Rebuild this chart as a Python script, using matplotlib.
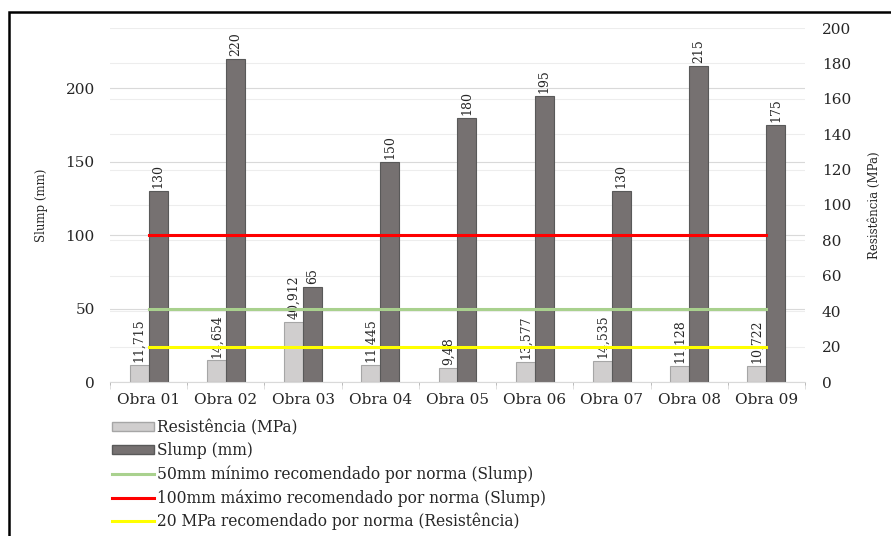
import matplotlib

matplotlib.use("Agg")
import matplotlib.pyplot as plt
import numpy as np
from matplotlib.lines import Line2D
from matplotlib.patches import Patch, Rectangle

obras = ["Obra 01", "Obra 02", "Obra 03", "Obra 04", "Obra 05",
         "Obra 06", "Obra 07", "Obra 08", "Obra 09"]
resistencia = [11.715, 14.654, 40.912, 11.445, 9.48, 13.577, 14.535, 11.128, 10.722]
slump = [130, 220, 65, 150, 180, 195, 130, 215, 175]
slump_min = [50] * len(obras)
slump_max = [100] * len(obras)
resist_min = [20] * len(obras)

plt.rcParams["font.family"] = ["DejaVu Serif"]
TXT = "#262626"

fig = plt.figure(figsize=(8.91, 5.36), dpi=100)
rect = [110 / 891, 1 - 382 / 536, 695 / 891, 354 / 536]

# right axis sits behind so its grid stays under the bars
ax2 = fig.add_axes(rect, zorder=0)
ax = fig.add_axes(rect, sharex=ax2, zorder=1)
ax.patch.set_visible(False)
ax3 = fig.add_axes(rect, sharex=ax2, zorder=2)
ax3.patch.set_visible(False)

x = np.arange(len(obras))
w = 0.245

ax.bar(x - w / 2, resistencia, w, color="#D0CECE", edgecolor="#A6A6A6", linewidth=0.8)
ax.bar(x + w / 2, slump, w, color="#767171", edgecolor="#595959", linewidth=0.8)

for xi, v in zip(x, resistencia):
    ax.annotate(str(v).replace(".", ","), (xi - w / 2, v), xytext=(0, 2),
                textcoords="offset points", rotation=90, ha="center", va="bottom",
                fontsize=9, color=TXT)
for xi, v in zip(x, slump):
    ax.annotate(str(v), (xi + w / 2, v), xytext=(0, 2),
                textcoords="offset points", rotation=90, ha="center", va="bottom",
                fontsize=9, color=TXT)

ax.plot(x, slump_min, color="#A9D18E", lw=2.2, zorder=4)
ax.plot(x, slump_max, color="#FF0000", lw=2.2, zorder=4)
ax3.plot(x, resist_min, color="#FFFF00", lw=2.2)

# left axis (mm)
ax.set_ylim(0, 241)
ax.set_yticks([0, 50, 100, 150, 200])
ax.set_xlim(-0.5, len(obras) - 0.5)
ax.grid(axis="y", color="#D9D9D9", lw=0.8)
ax.set_axisbelow(True)
for s in ["top", "left", "right"]:
    ax.spines[s].set_visible(False)
ax.spines["bottom"].set_color("#D9D9D9")
ax.tick_params(axis="y", length=0, pad=11, labelsize=11, labelcolor=TXT)
ax.set_ylabel("Slump (mm)", fontsize=8.5, color=TXT)
ax.yaxis.set_label_coords((48 - 110) / 695, 0.5)

ax.set_xticks(x)
ax.set_xticklabels(obras)
ax.set_xticks(np.arange(len(obras) + 1) - 0.5, minor=True)
ax.tick_params(axis="x", which="major", length=0, pad=8, labelsize=11, labelcolor=TXT)
ax.tick_params(axis="x", which="minor", length=5, color="#D9D9D9")

# right axis (MPa)
ax2.set_ylim(0, 200)
ax2.set_yticks(np.arange(0, 201, 20))
ax2.yaxis.tick_right()
ax2.yaxis.set_label_position("right")
ax2.grid(axis="y", color="#EDEDED", lw=0.8)
for s in ax2.spines.values():
    s.set_visible(False)
ax2.tick_params(axis="y", length=0, pad=12, labelsize=11, labelcolor=TXT)
ax2.tick_params(axis="x", length=0, labelbottom=False)
ax2.set_ylabel("Resistência (MPa)", fontsize=8.5, color=TXT)
ax2.yaxis.set_label_coords((868 - 110) / 695, 0.5)

ax3.set_ylim(0, 200)
ax3.axis("off")

handles = [
    Patch(facecolor="#D0CECE", edgecolor="#A6A6A6", label="Resistência (MPa)"),
    Patch(facecolor="#767171", edgecolor="#595959", label="Slump (mm)"),
    Line2D([], [], color="#A9D18E", lw=2.2, label="50mm mínimo recomendado por norma (Slump)"),
    Line2D([], [], color="#FF0000", lw=2.2, label="100mm máximo recomendado por norma (Slump)"),
    Line2D([], [], color="#FFFF00", lw=2.2, label="20 MPa recomendado por norma (Resistência)"),
]
fig.legend(handles=handles, loc="upper left", bbox_to_anchor=(112 / 891, 1 - 419 / 536),
           frameon=False, fontsize=11.2, handlelength=2.7, handleheight=0.5,
           handletextpad=0.2, labelspacing=0.4, borderpad=0, borderaxespad=0,
           labelcolor=TXT)

# black outer frame of the original figure
fig.patches.append(Rectangle((9 / 891, -0.05), 1.1, 1 - 12 / 536 + 0.05,
                             transform=fig.transFigure, fill=False,
                             edgecolor="black", lw=1.8, clip_on=False))

fig.savefig("out.png", dpi=100)
